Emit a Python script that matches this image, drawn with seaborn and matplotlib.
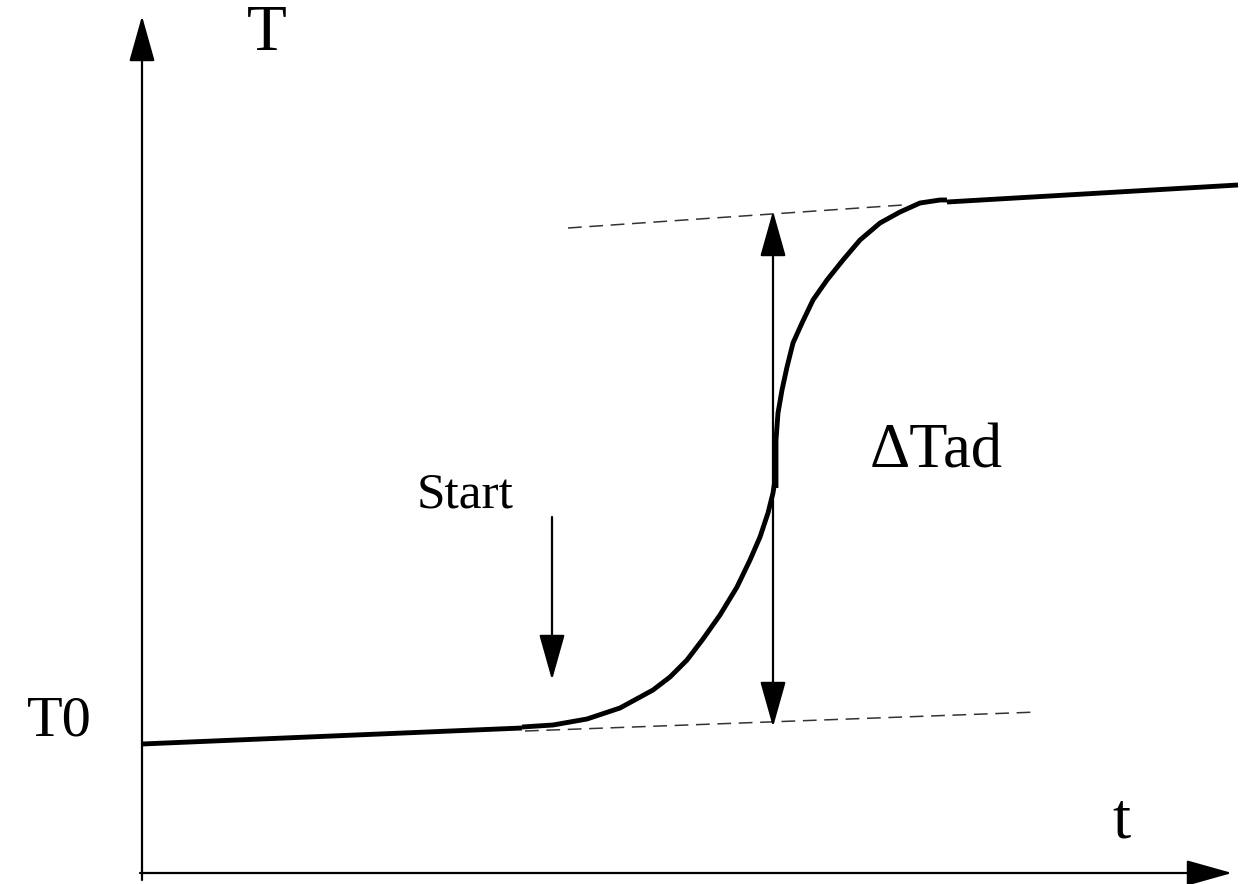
#!/usr/bin/env python3

import pandas as pd
import seaborn as sns
import matplotlib.pyplot as plt

# curve (t across, T up, pixel-like units)
base_t = [142, 522]
base_T = [140, 156]

rise_t = [522, 553, 587, 620, 653, 670, 687, 703, 720, 737, 750, 760, 768, 773, 775]
rise_T = [157, 159, 165, 176, 194, 207, 224, 245, 269, 297, 324, 347, 371, 391, 404]

top_t = [776, 776, 778, 782, 787, 793, 802, 813, 827, 843, 860, 880, 900, 920, 940, 947]
top_T = [396, 444, 471, 494, 517, 541, 561, 584, 604, 624, 644, 661, 672, 681, 684, 684]

plateau_t = [947, 1238]
plateau_T = [682, 699]

# dashed guide lines
guide_hi_t = [568, 903]
guide_hi_T = [656, 679]
guide_lo_t = [525, 1038]
guide_lo_T = [153, 172]

# arrows: (start, end)
dT_arrow = [(773, 157), (773, 673)]
start_arrow = [(552, 367), (552, 204)]
y_axis = [(142, 4), (142, 868)]
x_axis = [(140, 11), (1232, 11)]

labels = ["T", "T0", "t", "Start", "\u0394Tad"]
label_pos = [(247, 834), (27, 149), (1112, 46), (417, 376), (870, 416)]
label_size = [47, 42, 47, 37, 45]

sns.set_style("white")
plt.rcParams['font.family'] = ['Liberation Serif', 'DejaVu Serif']

fig = plt.figure(figsize=(12.5, 8.84), dpi=100)
ax = fig.add_axes([0, 0, 1, 1])

segments = [(base_t, base_T), (rise_t, rise_T), (top_t, top_T), (plateau_t, plateau_T)]
for tt, TT in segments:
    df = pd.DataFrame({"t": tt, "T": TT})
    sns.lineplot(data=df, x="t", y="T", ax=ax, color="black", linewidth=3.5,
                 sort=False, estimator=None, solid_joinstyle="round",
                 solid_capstyle="butt")

for tt, TT in [(guide_hi_t, guide_hi_T), (guide_lo_t, guide_lo_T)]:
    df = pd.DataFrame({"t": tt, "T": TT})
    sns.lineplot(data=df, x="t", y="T", ax=ax, color="#333333", linewidth=1.1,
                 dashes=False, linestyle=(0, (9, 5)), sort=False, estimator=None)

head = "-|>,head_length=1.6,head_width=0.45"
for (p0, p1), style in [(y_axis, head), (x_axis, head), (start_arrow, head),
                        (dT_arrow, "<|-|>,head_length=1.6,head_width=0.45")]:
    ax.annotate("", xy=p1, xytext=p0,
                arrowprops=dict(arrowstyle=style, mutation_scale=18, lw=1.6,
                                color="black", shrinkA=0, shrinkB=0))

for txt, (x, y), fs in zip(labels, label_pos, label_size):
    ax.text(x, y, txt, fontsize=fs, ha="left", va="baseline", color="black")

ax.set_xlim(0, 1250)
ax.set_ylim(0, 884)
ax.axis("off")

plt.savefig("out.png", dpi=100)
